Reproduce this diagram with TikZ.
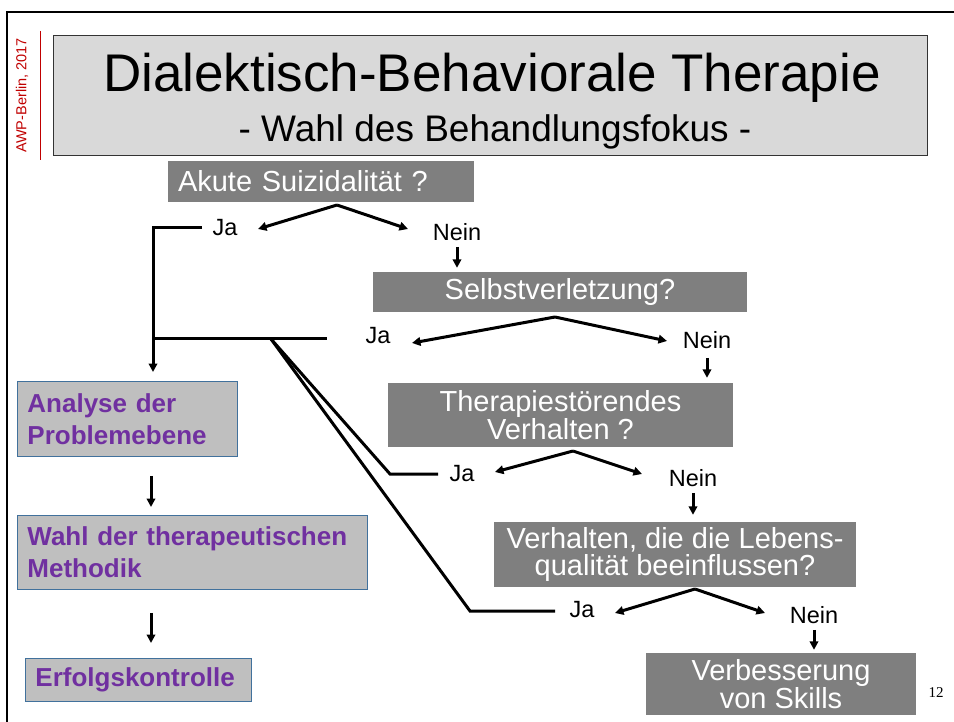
\documentclass[tikz,border=0pt]{standalone}
\usepackage{fontspec}
\setmainfont{Liberation Sans}
\newfontfamily\serfont{Liberation Serif}
\usetikzlibrary{arrows.meta,calc}
\newcommand\myfs[2]{\fontsize{#1}{#2}\selectfont}
\definecolor{dgray}{HTML}{7F7F7F}
\definecolor{tgray}{HTML}{D9D9D9}
\definecolor{lgray}{HTML}{BFBFBF}
\definecolor{bblue}{HTML}{41719C}
\definecolor{purp}{HTML}{7030A0}
\definecolor{awpred}{HTML}{C00000}
\tikzset{
  dbox/.style={fill=dgray, text=white, inner sep=0pt, font=\myfs{29}{26.5}, align=center},
  lbox/.style={fill=lgray, draw=bblue, line width=0.9pt, text=purp, font=\bfseries\myfs{26}{32}, align=left, anchor=north west, inner xsep=10pt, inner ysep=0pt},
  lbl/.style={font=\myfs{23.5}{24}, inner sep=0pt},
  conn/.style={line width=3pt},
  arr/.style={conn, -{Triangle[length=8.5pt,width=8.5pt]}},
}
\begin{document}
\begin{tikzpicture}[x=1pt,y=-1pt]
\useasboundingbox (0,0) rectangle (954,722);
% frame
\draw[line width=2pt] (7,722) -- (7,12.5) -- (954,12.5);
% sidebar
\node[rotate=90, text=awpred, font=\myfs{14.5}{15}, inner sep=0pt] (awp) at (22,95.5) {AWP-Berlin, 2017};
\draw[awpred, line width=1pt] (40,31) -- (40,160);
% title
\node[fill=tgray, draw=black!80, line width=0.9pt, minimum width=874pt, minimum height=120pt, inner sep=0pt] (tbox) at (490,95) {};
\node[anchor=base, font=\myfs{53}{56}, inner sep=0pt] (title) at (492,92) {Dialektisch-Behaviorale Therapie};
\node[anchor=base, font=\myfs{37}{40}, inner sep=0pt] (subtitle) at (495,142) {- Wahl des Behandlungsfokus -};
% question boxes
\node[dbox, minimum height=41pt, text width=286pt, inner xsep=10pt, align=left] (q1) at (321,181.5) {Akute Suizidalität ?};
\node[dbox, minimum width=374pt, minimum height=40pt] (q2) at (560,292) {Selbstverletzung?};
\node[dbox, minimum width=345pt, minimum height=64pt] (q3) at (560.5,415) {Therapiestörendes\\Verhalten ?};
\node[dbox, minimum width=362pt, minimum height=65pt] (q4) at (675,554.5) {Verhalten, die die Lebens-\\qualität beeinflussen?};
\node[dbox, minimum width=270pt, minimum height=62pt] (q5) at (781,684) {Verbesserung\\von Skills};
% left boxes
\node[lbox, text width=200pt, minimum height=75pt] (ana) at (17,381) {Analyse der\\Problemebene};
\node[lbox, text width=330pt, minimum height=74pt] (wahl) at (17,515) {Wahl der therapeutischen\\Methodik};
\node[lbox, text width=206pt, minimum height=43pt] (erf) at (25,658) {Erfolgskontrolle};
\coordinate (ax) at (151,0);
\draw[arr, shorten <=19pt, shorten >=8pt] (ana.south -| ax) -- (wahl.north -| ax);
\draw[arr, shorten <=23pt, shorten >=15pt] (wahl.south -| ax) -- (erf.north -| ax);
% labels
\node[lbl] (ja1) at (225,228) {Ja};
\node[lbl] (nein1) at (457,232) {Nein};
\node[lbl] (ja2) at (378,336) {Ja};
\node[lbl] (nein2) at (707,340) {Nein};
\node[lbl] (ja3) at (462,474) {Ja};
\node[lbl] (nein3) at (693,478) {Nein};
\node[lbl] (ja4) at (582,610) {Ja};
\node[lbl] (nein4) at (814,615) {Nein};
% level 1
\coordinate (a1) at (337,205);
\coordinate (t1l) at (258,229);
\coordinate (t1r) at (408,229);
\draw[arr] (a1) -- (t1l);
\draw[arr] (a1) -- (t1r);
\draw[arr, shorten <=6pt, shorten >=4pt] (nein1.south) -- (nein1.south |- q2.north);
\coordinate (j1) at (202,228);
\coordinate (c1) at (153,228);
\draw[arr, shorten >=9pt, line join=miter] (j1) -- (c1) -- (c1 |- ana.north);
% level 2
\coordinate (a2) at (555,317);
\coordinate (t2l) at (412,343);
\coordinate (t2r) at (667,341);
\draw[arr] (a2) -- (t2l);
\draw[arr] (a2) -- (t2r);
\draw[arr, shorten <=9pt, shorten >=5pt] (nein2.south) -- (nein2.south |- q3.north);
\coordinate (h2a) at (153,339);
\coordinate (h2b) at (327,339);
\draw[conn] (h2a) -- (h2b);
\coordinate (br) at (271,339);
\coordinate (d3) at (390,474);
\coordinate (e3) at (438,474);
\coordinate (d4) at (470,611);
\coordinate (e4) at (555,611);
\draw[conn, line join=miter] (br) -- (d3) -- (e3);
\draw[conn, line join=miter] (br) -- (d4) -- (e4);
% level 3
\coordinate (a3) at (573,451);
\coordinate (t3l) at (495,472);
\coordinate (t3r) at (642,474);
\draw[arr] (a3) -- (t3l);
\draw[arr] (a3) -- (t3r);
\draw[arr, shorten <=6pt, shorten >=7pt] (nein3.south) -- (nein3.south |- q4.north);
% level 4
\coordinate (a4) at (695,589);
\coordinate (t4l) at (615,613);
\coordinate (t4r) at (765,613);
\draw[arr] (a4) -- (t4l);
\draw[arr] (a4) -- (t4r);
\draw[arr, shorten <=6pt, shorten >=3pt] (nein4.south) -- (nein4.south |- q5.north);
% page number
\node[font=\serfont\myfs{15}{15}, inner sep=0pt] (pnum) at (936,693) {12};
\end{tikzpicture}
\end{document}
